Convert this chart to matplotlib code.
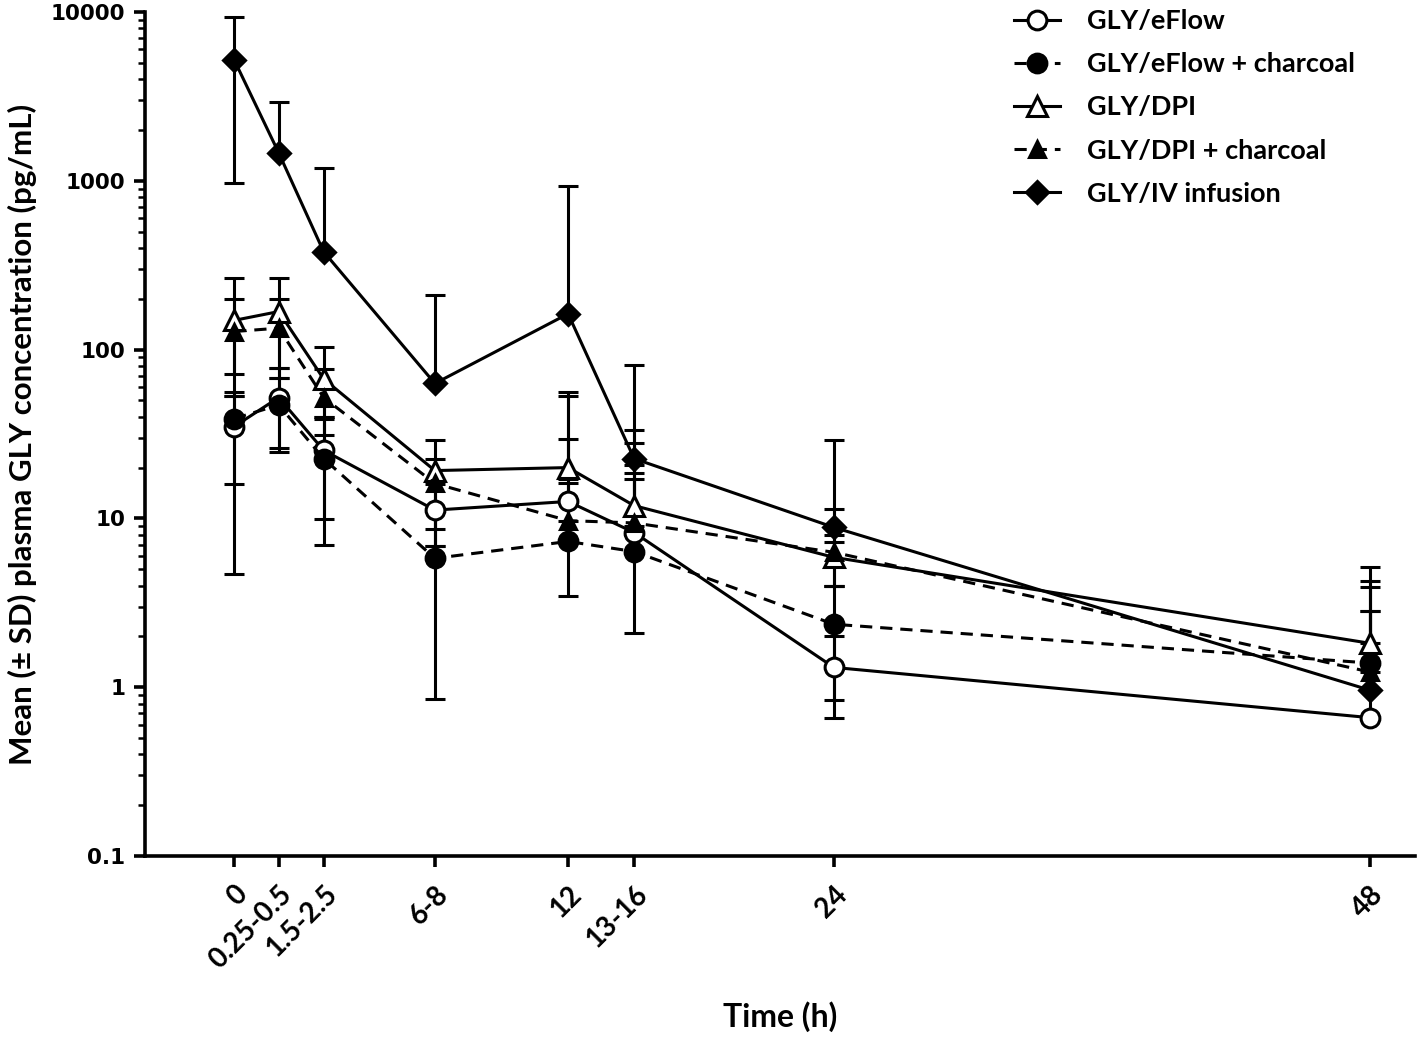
import matplotlib
matplotlib.use('Agg')
import matplotlib.pyplot as plt
import numpy as np
from matplotlib.ticker import LogLocator, NullFormatter, FixedLocator

plt.rcParams['font.family'] = ['Lato', 'DejaVu Sans']
plt.rcParams['font.weight'] = 'bold'

# 时间点（横轴位置按原图比例）
time_labels = ['0', '0.25-0.5', '1.5-2.5', '6-8', '12', '13-16', '24', '48']
time_pos = [0, 1.88, 3.78, 8.48, 14.11, 16.90, 25.34, 48]

# 均值及误差线上下端（pg/mL）
eflow_mean = [35, 52, 25.3, 11.2, 12.6, 8.25, 1.31, 0.66]
eflow_lo = [4.66, 24.6, 9.86, 6.9, 9.7, 6.4, 0.66, 0.66]
eflow_hi = [53.4, 78, 39, 16, 29.7, 20.6, 2.0, 2.82]

eflowc_mean = [39, 47, 22.6, 5.8, 7.3, 6.36, 2.36, 1.39]
eflowc_lo = [15.9, 26, 6.92, 0.85, 3.45, 2.09, 0.84, 1.39]
eflowc_hi = [55.7, 68, 40, 11, 16.3, 17.2, 3.96, 4.24]

dpi_mean = [149, 168, 67, 19.2, 20, 11.9, 5.88, 1.82]
dpi_lo = [72, 78, 40, 8.6, 17.2, 9.0, 3.96, 1.82]
dpi_hi = [267, 267, 104, 29.3, 56.4, 33.6, 11.3, 5.13]

dpic_mean = [128, 134, 52, 16.1, 9.7, 9.4, 6.3, 1.23]
dpic_lo = [53.4, 68, 31, 6.9, 7.3, 8.0, 3.96, 1.23]
dpic_hi = [200, 200, 77, 22.6, 53.4, 27.8, 8.0, 3.91]

iv_mean = [5200, 1465, 380, 63, 163, 22.6, 8.85, 0.96]
iv_lo = [973, 1465, 380, 63, 163, 18.7, 7.2, 0.96]
iv_hi = [9340, 2930, 1194, 211, 935, 81.5, 29.3, 2.82]

series = [
    ('GLY/eFlow', eflow_mean, eflow_lo, eflow_hi, 'o', 'white', '-', 13.5),
    ('GLY/eFlow + charcoal', eflowc_mean, eflowc_lo, eflowc_hi, 'o', 'black', '--', 13.5),
    ('GLY/DPI', dpi_mean, dpi_lo, dpi_hi, '^', 'white', '-', 14),
    ('GLY/DPI + charcoal', dpic_mean, dpic_lo, dpic_hi, '^', 'black', '--', 12),
    ('GLY/IV infusion', iv_mean, iv_lo, iv_hi, 'D', 'black', '-', 11.5),
]

fig = plt.figure(figsize=(14.18, 10.4), dpi=100)
ax = fig.add_axes([145 / 1418, 184 / 1040, 1270 / 1418, 844 / 1040])

x = np.array(time_pos)
for label, mean, lo, hi, marker, fc, ls, ms in series:
    mean = np.array(mean)
    yerr = [mean - np.array(lo), np.array(hi) - mean]
    ax.errorbar(x, mean, yerr=yerr, fmt='none', ecolor='black', elinewidth=2.2,
                capsize=7.5, capthick=2.2, zorder=2)
    line, = ax.plot(x, mean, color='black', lw=2.2, ls=ls, marker=marker, ms=ms,
                    mfc=fc, mec='black', mew=2.2, label=label, zorder=3)
    if ls == '--':
        line.set_dashes((4, 2.6))

ax.set_yscale('log')
ax.set_ylim(0.1, 10000)
ax.set_xlim(-3.77, 49.9)

ax.yaxis.set_major_locator(FixedLocator([0.1, 1, 10, 100, 1000, 10000]))
ax.set_yticklabels(['0.1', '1', '10', '100', '1000', '10000'],
                   fontfamily='DejaVu Sans', fontweight='bold', fontsize=15.5)
ax.yaxis.set_minor_locator(LogLocator(base=10, subs=np.arange(2, 10)))
ax.yaxis.set_minor_formatter(NullFormatter())

ax.set_xticks(x)
ax.set_xticklabels(time_labels, rotation=45, ha='right', va='top',
                   rotation_mode='anchor', fontsize=20, fontweight='bold')

for s in ['top', 'right']:
    ax.spines[s].set_visible(False)
for s in ['left', 'bottom']:
    ax.spines[s].set_linewidth(2.6)

ax.tick_params(axis='both', which='major', width=2.6, length=8, direction='out')
ax.tick_params(axis='y', which='minor', width=1.8, length=5)
ax.tick_params(axis='x', pad=10)
ax.tick_params(axis='y', pad=6)

ax.set_ylabel('Mean (± SD) plasma GLY concentration (pg/mL)', fontsize=22.5,
              fontweight='bold', labelpad=10)
ax.set_xlabel('Time (h)', fontsize=23, fontweight='bold', labelpad=20)

leg = ax.legend(loc='upper left', bbox_to_anchor=(1014 / 1418, 1 - 9 / 1040),
                bbox_transform=fig.transFigure, frameon=False,
                handlelength=1.7, handletextpad=1.0, labelspacing=0.71,
                borderpad=0, borderaxespad=0,
                prop={'weight': 'bold', 'size': 19.5})

fig.savefig('out.png', dpi=100)
